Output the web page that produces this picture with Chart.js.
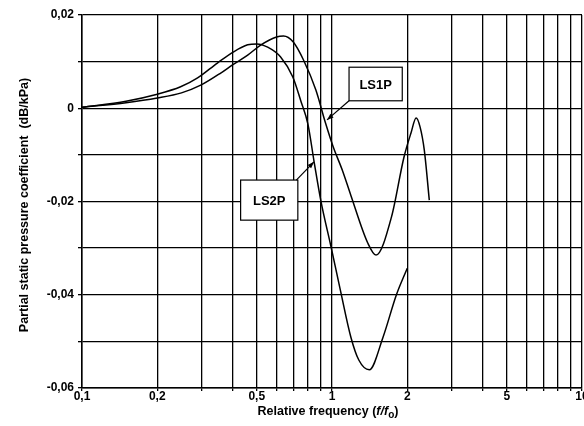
<!DOCTYPE html>
<html>
<head>
<meta charset="utf-8">
<script src="https://cdn.jsdelivr.net/npm/chart.js@4.4.1/dist/chart.umd.min.js"></script>
<style>
  html, body { margin: 0; padding: 0; background: #fff; }
  #wrap { width: 584px; height: 426px; }
</style>
</head>
<body>
<div id="wrap"><canvas id="chart" width="584" height="426"></canvas></div>
<script>
// values (relative frequency f/fo, coefficient dB/kPa)
const ls1pFreq = [0.1, 0.15, 0.2, 0.25, 0.3, 0.36, 0.4, 0.46, 0.52, 0.6, 0.64, 0.7, 0.77, 0.862, 0.94, 1.01, 1.1, 1.19, 1.39, 1.5, 1.73, 1.94, 2.07, 2.17, 2.25, 2.34, 2.45];
const ls1pVal  = [0.0002, 0.0012, 0.0022, 0.0033, 0.005, 0.0076, 0.0093, 0.0114, 0.0136, 0.0153, 0.0155, 0.0142, 0.0103, 0.0039, -0.003, -0.0082, -0.0133, -0.0187, -0.0289, -0.0315, -0.0233, -0.0105, -0.0053, -0.0021, -0.004, -0.009, -0.0197];

const ls2pFreq = [0.1, 0.15, 0.2, 0.248, 0.29, 0.348, 0.404, 0.46, 0.5, 0.553, 0.623, 0.697, 0.751, 0.801, 0.85, 0.903, 0.99, 1.08, 1.19, 1.28, 1.41, 1.6, 1.81, 2.0];
const ls2pVal  = [0.0002, 0.0015, 0.003, 0.0046, 0.0065, 0.0097, 0.0121, 0.0136, 0.0138, 0.0131, 0.011, 0.0067, 0.0015, -0.0034, -0.0118, -0.0199, -0.0296, -0.039, -0.0491, -0.054, -0.0561, -0.0491, -0.04, -0.0343];

const xGridTicks  = [0.1, 0.2, 0.3, 0.4, 0.5, 0.6, 0.7, 0.8, 0.9, 1, 2, 3, 4, 5, 6, 7, 8, 9, 10];
const xLabelTicks = [0.1, 0.2, 0.5, 1, 2, 5, 10];
const yGridTicks  = [-0.06, -0.05, -0.04, -0.03, -0.02, -0.01, 0, 0.01, 0.02];
const yLabelTicks = [-0.06, -0.04, -0.02, 0, 0.02];

// label boxes: [text, box left f, box right f, box top, box bottom, arrow from f, from y, tip f, tip y]
const callouts = [
  ['LS1P', 1.17, 1.91, 0.0088, 0.0016, 1.17, 0.0016, 0.955, -0.0025],
  ['LS2P', 0.431, 0.73, -0.0154, -0.024, 0.72, -0.0154, 0.847, -0.0115]
];

const fmt = v => String(v).replace('.', ',');
const FONT = '"Liberation Sans", Arial, sans-serif';

const toPoints = (xs, ys) => xs.map((x, i) => ({ x: x, y: ys[i] }));

const labelsPlugin = {
  id: 'labelsPlugin',
  afterDraw(chart) {
    const c = chart.ctx;
    const xs = chart.scales.x, ys = chart.scales.y;
    c.save();
    c.fillStyle = '#000';
    c.strokeStyle = '#000';

    // callout boxes with arrows
    callouts.forEach(cl => {
      const [txt, f0, f1, yt, yb, af, ay, tf, ty] = cl;
      const l = xs.getPixelForValue(f0), r = xs.getPixelForValue(f1);
      const t = ys.getPixelForValue(yt), b = ys.getPixelForValue(yb);
      c.fillStyle = '#fff';
      c.fillRect(l, t, r - l, b - t);
      c.lineWidth = 1.2;
      c.strokeRect(l, t, r - l, b - t);
      c.fillStyle = '#000';
      c.font = 'bold 13px ' + FONT;
      c.textAlign = 'center';
      c.textBaseline = 'middle';
      c.fillText(txt, (l + r) / 2, (t + b) / 2 + 1);
      const x0 = xs.getPixelForValue(af), y0 = ys.getPixelForValue(ay);
      const x1 = xs.getPixelForValue(tf), y1 = ys.getPixelForValue(ty);
      c.beginPath();
      c.moveTo(x0, y0);
      c.lineTo(x1, y1);
      c.stroke();
      const a = Math.atan2(y1 - y0, x1 - x0);
      c.beginPath();
      c.moveTo(x1, y1);
      c.lineTo(x1 - 7 * Math.cos(a - 0.35), y1 - 7 * Math.sin(a - 0.35));
      c.lineTo(x1 - 7 * Math.cos(a + 0.35), y1 - 7 * Math.sin(a + 0.35));
      c.closePath();
      c.fill();
    });

    // y axis title
    c.font = 'bold 12.5px ' + FONT;
    c.textAlign = 'center';
    c.textBaseline = 'middle';
    c.save();
    c.translate(25, 205);
    c.rotate(-Math.PI / 2);
    c.fillText('Partial static pressure coefficient  (dB/kPa)', 0, 0);
    c.restore();

    // x axis title with italic f/f and subscript o
    const parts = [
      ['Relative frequency (', 'bold 12.5px ', 0],
      ['f/f', 'bold italic 12.5px ', 0],
      ['o', 'bold 10px ', 3],
      [')', 'bold 12.5px ', 0]
    ];
    let total = 0;
    parts.forEach(p => { c.font = p[1] + FONT; total += c.measureText(p[0]).width; });
    let x = 328 - total / 2;
    c.textAlign = 'left';
    parts.forEach(p => {
      c.font = p[1] + FONT;
      c.fillText(p[0], x, 412 + p[2]);
      x += c.measureText(p[0]).width;
    });
    c.restore();
  }
};

const ctx = document.getElementById('chart').getContext('2d');
const chart = new Chart(ctx, {
  type: 'scatter',
  data: {
    datasets: [
      {
        label: 'LS1P',
        data: toPoints(ls1pFreq, ls1pVal),
        showLine: true,
        borderColor: '#000',
        borderWidth: 1.5,
        pointRadius: 0,
        cubicInterpolationMode: 'monotone'
      },
      {
        label: 'LS2P',
        data: toPoints(ls2pFreq, ls2pVal),
        showLine: true,
        borderColor: '#000',
        borderWidth: 1.5,
        pointRadius: 0,
        cubicInterpolationMode: 'monotone'
      }
    ]
  },
  options: {
    responsive: false,
    animation: false,
    layout: { padding: { top: 15, right: 2, left: 0, bottom: 0 } },
    plugins: { legend: { display: false }, tooltip: { enabled: false } },
    scales: {
      x: {
        type: 'logarithmic',
        min: 0.1,
        max: 10,
        afterBuildTicks: s => { s.ticks = xGridTicks.map(v => ({ value: v })); },
        afterFit: s => { s.height = 38; s.paddingLeft = 0; s.paddingRight = 0; },
        grid: { color: '#000', lineWidth: 1.3, tickLength: 3 },
        border: { color: '#000', width: 1.5 },
        ticks: {
          autoSkip: false,
          maxRotation: 0,
          padding: -2,
          color: '#000',
          font: { family: FONT, size: 12, weight: 'bold' },
          callback: v => xLabelTicks.includes(v) ? fmt(v) : ''
        }
      },
      y: {
        min: -0.06,
        max: 0.02,
        afterBuildTicks: s => { s.ticks = yGridTicks.map(v => ({ value: v })); },
        afterFit: s => { s.width = 82; },
        grid: { color: '#000', lineWidth: 1.3, tickLength: 4 },
        border: { color: '#000', width: 1.5 },
        ticks: {
          autoSkip: false,
          padding: 4,
          color: '#000',
          font: { family: FONT, size: 12, weight: 'bold' },
          callback: v => yLabelTicks.includes(v) ? fmt(v) : ''
        }
      }
    }
  },
  plugins: [labelsPlugin]
});
</script>
</body>
</html>
